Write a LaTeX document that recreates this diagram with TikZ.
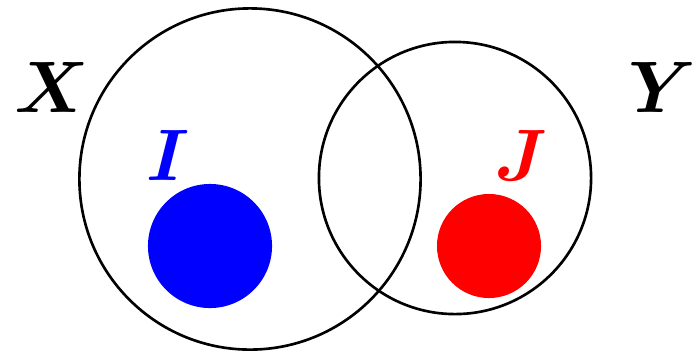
\documentclass[tikz,border=0pt]{standalone}
\usepackage{amsmath,amssymb,bm}
\usetikzlibrary{positioning}

\begin{document}
\begin{tikzpicture}[
    x=0.01cm, y=-0.01cm,
    setcirc/.style={circle, draw=black, line width=0.75pt, inner sep=0pt},
    blob/.style={circle, inner sep=0pt, draw=none},
    lbl/.style={inner sep=0pt, font=\fontsize{19.5}{22}\selectfont},
]
    \useasboundingbox (0,0) rectangle (697,351);
    % the two sets
    \node[setcirc, minimum size=3.41cm] (setx) at (250,179) {};
    \node[setcirc, minimum size=2.72cm] (sety) at (455,178) {};
    % the subsets
    \node[blob, fill=blue, minimum size=1.24cm] (subi) at (210,246) {};
    \node[blob, fill=red, minimum size=1.04cm] (subj) at (489,246) {};
    % labels
    \node[lbl] (labx) at (52,87) {$\bm{X}$};
    \node[lbl] (laby) at (662,87) {$\bm{Y}$};
    \node[lbl, text=blue] (labi) at (168,155) {$\bm{I}$};
    \node[lbl, text=red] (labj) at (521,155) {$\bm{J}$};
\end{tikzpicture}
\end{document}
